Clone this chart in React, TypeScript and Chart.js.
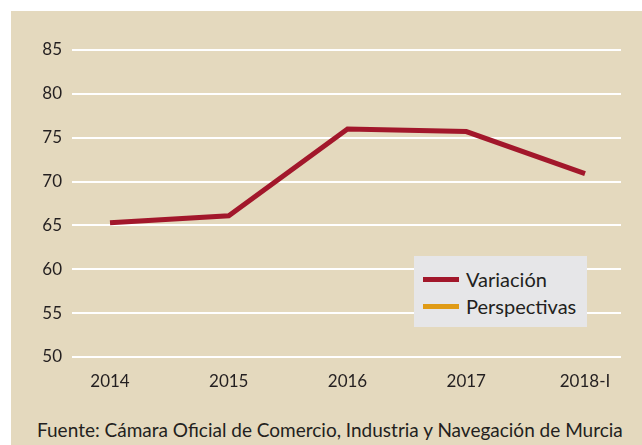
import { useEffect, useRef } from 'react';
import { Chart, registerables } from 'chart.js';
Chart.register(...registerables);

const categories = ['2014', '2015', '2016', '2017', '2018-I'];
const variacion = [65.3, 66.1, 76.0, 75.7, 70.9];
const perspectivas: (number | null)[] = [null, null, null, null, null];
const seriesLabels = ['Variación', 'Perspectivas'];
const source = 'Fuente: Cámara Oficial de Comercio, Industria y Navegación de Murcia';

const RED = '#A2172B';
const ORANGE = '#E09B16';
const BEIGE = '#E4D9BE';
const TEXT = '#231F20';
const FONT = 'Lato, "Open Sans", sans-serif';

export default function App() {
  const ref = useRef<HTMLCanvasElement>(null);
  useEffect(() => {
    const font = { family: FONT, size: 17 };
    const chart = new Chart(ref.current!, {
      type: 'line',
      data: {
        datasets: [
          {
            label: seriesLabels[0],
            data: variacion.map((v, i) => ({ x: i, y: v })),
            borderColor: RED,
            backgroundColor: RED,
            borderWidth: 5,
            pointRadius: 0,
            tension: 0,
            fill: false,
          },
          {
            label: seriesLabels[1],
            data: perspectivas.map((v, i) => ({ x: i, y: v })),
            borderColor: ORANGE,
            backgroundColor: ORANGE,
            borderWidth: 5,
            pointRadius: 0,
            tension: 0,
            fill: false,
          },
        ],
      },
      options: {
        animation: false,
        responsive: false,
        maintainAspectRatio: false,
        layout: { padding: { top: 39, right: 21, left: 0, bottom: 0 } },
        plugins: { legend: { display: false }, tooltip: { enabled: false } },
        scales: {
          x: {
            type: 'linear',
            min: -0.32,
            max: 4.303,
            grid: { display: false, drawTicks: false },
            border: { display: false },
            afterBuildTicks: (axis: any) => {
              axis.ticks = categories.map((_, i) => ({ value: i }));
            },
            ticks: {
              callback: (v: any) => categories[v] ?? '',
              font,
              color: TEXT,
              padding: 14,
              maxRotation: 0,
              autoSkip: false,
            },
            afterFit: (axis: any) => {
              axis.height = 43;
            },
          },
          y: {
            min: 50,
            max: 85,
            ticks: { stepSize: 5, font, color: TEXT, padding: 10 },
            grid: { color: '#ffffff', lineWidth: 2, drawTicks: false },
            border: { display: false },
            afterFit: (axis: any) => {
              axis.width = 61;
            },
          },
        },
      },
    } as any);
    return () => chart.destroy();
  }, []);

  const colors = [RED, ORANGE];
  return (
    <div style={{ position: 'fixed', left: 0, top: 0, width: 642, height: 445, background: '#fff', overflow: 'hidden' }}>
      <div style={{ position: 'absolute', left: 11, top: 11, width: 631, height: 434, background: BEIGE }}>
        <canvas ref={ref} width={631} height={389} style={{ position: 'absolute', left: 0, top: 0, width: 631, height: 389 }} />
        <div style={{ position: 'absolute', left: 403, top: 245, width: 173, height: 71, background: '#E6E6E8' }}>
          {seriesLabels.map((l, i) => (
            <div key={l} style={{ position: 'absolute', left: 0, top: i === 0 ? 10 : 37, height: 26, width: 173 }}>
              <div style={{ position: 'absolute', left: 9, top: 11, width: 36, height: 5, background: colors[i] }} />
              <div style={{ position: 'absolute', left: 52, top: 0, lineHeight: '26px', fontFamily: FONT, fontSize: 20, color: TEXT, whiteSpace: 'nowrap' }}>{l}</div>
            </div>
          ))}
        </div>
        <div style={{ position: 'absolute', left: 26, top: 407, lineHeight: '24px', fontFamily: FONT, fontSize: 19, color: TEXT, whiteSpace: 'nowrap' }}>
          {source}
        </div>
      </div>
    </div>
  );
}
